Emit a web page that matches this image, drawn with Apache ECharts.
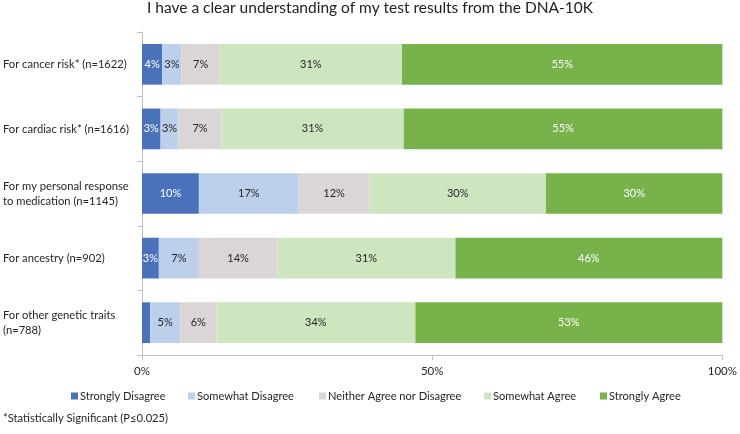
<!DOCTYPE html>
<html>
<head>
<meta charset="utf-8">
<script src="https://cdn.jsdelivr.net/npm/echarts@6/dist/echarts.min.js"></script>
<style>
html,body{margin:0;padding:0;background:#fff;}
#c{width:740px;height:434px;}
</style>
</head>
<body>
<div id="c"></div>
<script>
var categories = [
  'For cancer risk* (n=1622)',
  'For cardiac risk* (n=1616)',
  'For my personal response\nto medication (n=1145)',
  'For ancestry (n=902)',
  'For other genetic traits\n(n=788)'
];
var seriesNames = ['Strongly Disagree','Somewhat Disagree','Neither Agree nor Disagree','Somewhat Agree','Strongly Agree'];
var stronglyDisagree = [3.5, 3.2, 9.8, 2.9, 1.4];
var somewhatDisagree = [3.3, 3.1, 17.2, 6.9, 5.2];
var neitherAgree     = [6.6, 7.4, 12.2, 13.5, 6.2];
var somewhatAgree    = [31.4, 31.4, 30.4, 30.7, 34.3];
var stronglyAgree    = [55.2, 54.9, 30.4, 46.0, 52.9];
var xTicks = [0, 50, 100];

var FONT = 'Lato';
function fit(text, target) {
  var ctx = document.createElement('canvas').getContext('2d');
  ctx.font = 'normal 100px ' + FONT;
  var w = ctx.measureText(text).width;
  return Math.round(target / w * 1000) / 10;
}
var titleSize = fit('I have a clear understanding of my test results from the DNA-10K', 446);
var yLabSize = fit('For cancer risk* (n=1622)', 124);
var legSize = fit('Neither Agree nor Disagree', 134);
var valSize = fit('55%', 21.5);
var noteSize = fit('*Statistically Significant (P\u22640.025)', 165);

var colors = ['#4a72bb','#bccfeb','#dad6d5','#cee6c0','#77b34a'];
var labelColors = ['#ffffff','#262626','#262626','#262626','#ffffff'];
var allData = [stronglyDisagree, somewhatDisagree, neitherAgree, somewhatAgree, stronglyAgree];
var legendLeft = [71, 188, 319, 484, 600];

var chart = echarts.init(document.getElementById('c'), null, {renderer:'canvas'});
var series = seriesNames.map(function(name, i){
  return {
    name: name,
    type: 'bar',
    stack: 'total',
    barCategoryGap: '37%',
    data: allData[i],
    itemStyle: {color: colors[i]},
    label: {
      show: true,
      position: 'inside',
      color: labelColors[i],
      fontFamily: FONT,
      fontSize: valSize,
      formatter: function(p){ return p.value < 2 ? '' : Math.round(p.value) + '%'; }
    },
    emphasis: {disabled: true}
  };
});

var legends = seriesNames.map(function(name, i){
  return {
    data: [name],
    left: legendLeft[i], top: 389, padding: 0,
    itemWidth: 7, itemHeight: 7,
    icon: 'rect',
    textStyle: {fontFamily: FONT, fontSize: legSize, color: '#262626', lineHeight: 14, padding: [0,0,0,-3]}
  };
});

chart.setOption({
  animation: false,
  textStyle: {fontFamily: FONT},
  title: {
    text: 'I have a clear understanding of my test results from the DNA-10K',
    left: 'center', top: 0, padding: 0,
    textStyle: {fontFamily: FONT, fontSize: titleSize, fontWeight: 'normal', color: '#222'}
  },
  grid: {left: 141, right: 14, top: 32, bottom: 79, containLabel: false},
  legend: legends,
  xAxis: {
    type: 'value', min: 0, max: 100, interval: 50,
    axisLine: {show: true, lineStyle: {color: '#bfbfbf'}},
    axisTick: {show: true, length: 5, lineStyle: {color: '#bfbfbf'}},
    splitLine: {show: false},
    axisLabel: {fontFamily: FONT, fontSize: 11.5, color: '#262626', margin: 10,
      formatter: function(v){ return xTicks.indexOf(v) >= 0 ? v + '%' : ''; }}
  },
  yAxis: {
    type: 'category', data: categories, inverse: true,
    axisLine: {show: true, lineStyle: {color: '#bfbfbf'}},
    axisTick: {show: true, length: 5, lineStyle: {color: '#bfbfbf'}},
    axisLabel: {fontFamily: FONT, fontSize: yLabSize, color: '#262626', align: 'left', margin: 139, lineHeight: 15}
  },
  graphic: [{
    type: 'text', left: 3, top: 413,
    style: {text: '*Statistically Significant (P\u22640.025)', fontFamily: FONT, fontSize: noteSize, fill: '#262626'}
  }],
  series: series
});
</script>
</body>
</html>
